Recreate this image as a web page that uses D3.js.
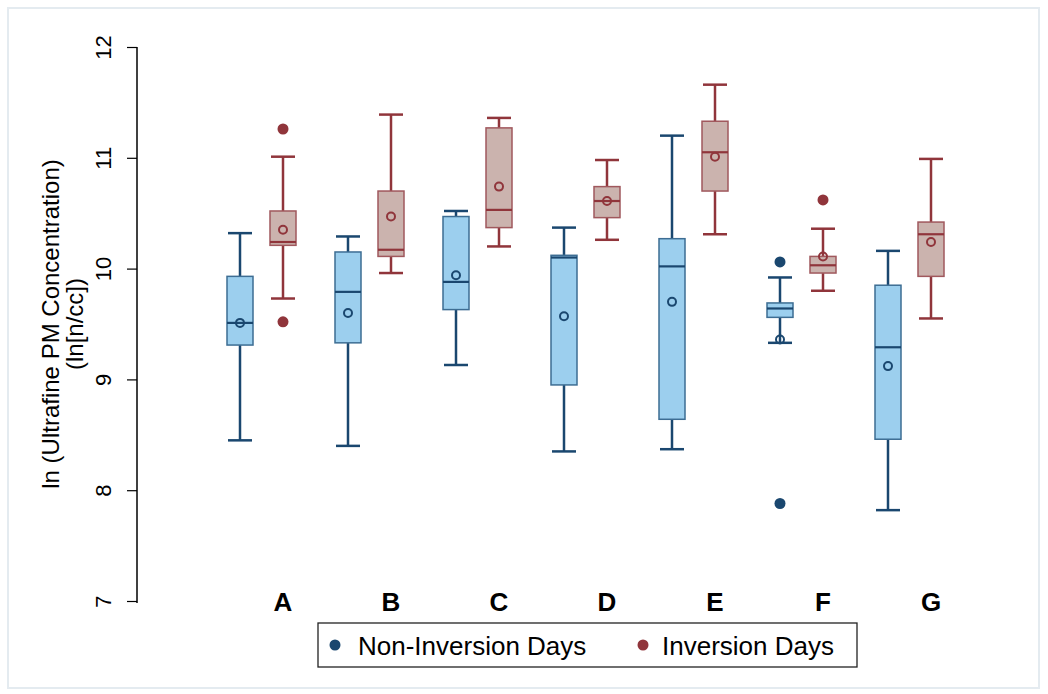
<html>
<head>
<meta charset="utf-8">
<script src="https://cdn.jsdelivr.net/npm/d3@7"></script>
<style>
body { margin: 0; background: #fff; }
text { font-family: "Liberation Sans", Arial, sans-serif; }
</style>
</head>
<body>
<div id="chart"></div>
<script>
// sites along x
var sites = ["A", "B", "C", "D", "E", "F", "G"];
var seriesNames = ["Non-Inversion Days", "Inversion Days"];

// box stats per site: [whisker low, q1, median, q3, whisker high]
var nonInvBox = [
  [8.45, 9.31, 9.51, 9.93, 10.32],
  [8.40, 9.33, 9.79, 10.15, 10.29],
  [9.13, 9.63, 9.88, 10.47, 10.52],
  [8.35, 8.95, 10.10, 10.12, 10.37],
  [8.37, 8.64, 10.02, 10.27, 11.20],
  [9.33, 9.56, 9.64, 9.69, 9.92],
  [7.82, 8.46, 9.29, 9.85, 10.16]
];
var invBox = [
  [9.73, 10.21, 10.24, 10.52, 11.01],
  [9.96, 10.11, 10.17, 10.70, 11.39],
  [10.20, 10.37, 10.53, 11.27, 11.36],
  [10.26, 10.46, 10.61, 10.74, 10.98],
  [10.31, 10.70, 11.05, 11.33, 11.66],
  [9.80, 9.96, 10.03, 10.11, 10.36],
  [9.55, 9.93, 10.31, 10.42, 10.99]
];
var nonInvMean = [9.51, 9.60, 9.94, 9.57, 9.70, 9.36, 9.12];
var invMean = [10.35, 10.47, 10.74, 10.61, 11.01, 10.11, 10.24];
// outliers: [site index, value]
var nonInvOut = [[5, 10.06], [5, 7.88]];
var invOut = [[0, 11.26], [0, 9.52], [5, 10.62]];

var yTicks = [7, 8, 9, 10, 11, 12];

var W = 1048, H = 694;
var svg = d3.select("#chart").append("svg").attr("width", W).attr("height", H);

// outer frame
svg.append("rect").attr("x", 8).attr("y", 8).attr("width", 1031).attr("height", 680)
  .style("fill", "none").style("stroke", "#e4ebf0").style("stroke-width", 2);

var y = d3.scaleLinear().domain([7, 12]).range([601, 47]);
var x = d3.scalePoint().domain(sites).range([283, 931]);
var off = d3.scalePoint().domain(seriesNames).range([-43, 0]);
var boxW = 26, capW = 24;

var styles = {
  "Non-Inversion Days": {fill: "#9ccfee", edge: "#3d6d93", line: "#1a476f"},
  "Inversion Days": {fill: "#cbb3ae", edge: "#a0585d", line: "#90353b"}
};

// y axis
var yAxis = d3.axisLeft(y).tickValues(yTicks).tickSize(10).tickSizeOuter(0).tickFormat(d3.format("d"));
var ga = svg.append("g").attr("transform", "translate(137,0)").call(yAxis);
ga.select(".domain").attr("d", "M0," + (y(7) + 2) + "V" + y(12)).style("stroke", "#000").style("stroke-width", 1.5);
ga.selectAll(".tick line").style("stroke", "#000").style("stroke-width", 1.2);
ga.selectAll(".tick text")
  .attr("x", 0).attr("dy", 0)
  .attr("transform", "translate(-26,0) rotate(-90)")
  .style("text-anchor", "middle")
  .style("font-size", "22px")
  .style("fill", "#000");

svg.append("text")
  .attr("transform", "translate(59,324) rotate(-90)")
  .style("text-anchor", "middle").style("font-size", "24px")
  .text("ln (Ultrafine PM Concentration)");
svg.append("text")
  .attr("transform", "translate(83,324) rotate(-90)")
  .style("text-anchor", "middle").style("font-size", "24px")
  .text("(ln[n/cc])");

// category labels
svg.selectAll("text.site").data(sites).enter().append("text")
  .attr("class", "site")
  .attr("x", function(d) { return x(d); })
  .attr("y", 611)
  .style("text-anchor", "middle").style("font-size", "26px").style("font-weight", "bold")
  .text(function(d) { return d; });

function drawSeries(name, boxes, means, outs) {
  var s = styles[name];
  var g = svg.append("g");
  boxes.forEach(function(b, i) {
    var cx = x(sites[i]) + off(name);
    // whiskers
    g.append("line").attr("x1", cx).attr("x2", cx).attr("y1", y(b[4])).attr("y2", y(b[3]))
      .style("stroke", s.line).style("stroke-width", 2.5);
    g.append("line").attr("x1", cx).attr("x2", cx).attr("y1", y(b[1])).attr("y2", y(b[0]))
      .style("stroke", s.line).style("stroke-width", 2.5);
    [b[0], b[4]].forEach(function(v) {
      g.append("line").attr("x1", cx - capW / 2).attr("x2", cx + capW / 2)
        .attr("y1", y(v)).attr("y2", y(v))
        .style("stroke", s.line).style("stroke-width", 2.5);
    });
    // box
    g.append("rect").attr("x", cx - boxW / 2).attr("width", boxW)
      .attr("y", y(b[3])).attr("height", y(b[1]) - y(b[3]))
      .style("fill", s.fill).style("stroke", s.edge).style("stroke-width", 1.5);
    // median
    g.append("line").attr("x1", cx - boxW / 2).attr("x2", cx + boxW / 2)
      .attr("y1", y(b[2])).attr("y2", y(b[2]))
      .style("stroke", s.line).style("stroke-width", 2.2);
    // mean
    g.append("circle").attr("cx", cx).attr("cy", y(means[i])).attr("r", 4)
      .style("fill", "none").style("stroke", s.line).style("stroke-width", 2);
  });
  outs.forEach(function(o) {
    g.append("circle").attr("cx", x(sites[o[0]]) + off(name)).attr("cy", y(o[1])).attr("r", 5.5)
      .style("fill", s.line);
  });
}
drawSeries("Non-Inversion Days", nonInvBox, nonInvMean, nonInvOut);
drawSeries("Inversion Days", invBox, invMean, invOut);

// legend
var lg = svg.append("g").attr("transform", "translate(318,623)");
lg.append("rect").attr("width", 539).attr("height", 44)
  .style("fill", "#fff").style("stroke", "#222").style("stroke-width", 1.3);
var legX = [17, 325], legTx = [40, 344];
seriesNames.forEach(function(n, i) {
  lg.append("circle").attr("cx", legX[i]).attr("cy", 22).attr("r", 5.5).style("fill", styles[n].line);
  lg.append("text").attr("x", legTx[i]).attr("y", 32).style("font-size", "26px").text(n);
});
</script>
</body>
</html>
